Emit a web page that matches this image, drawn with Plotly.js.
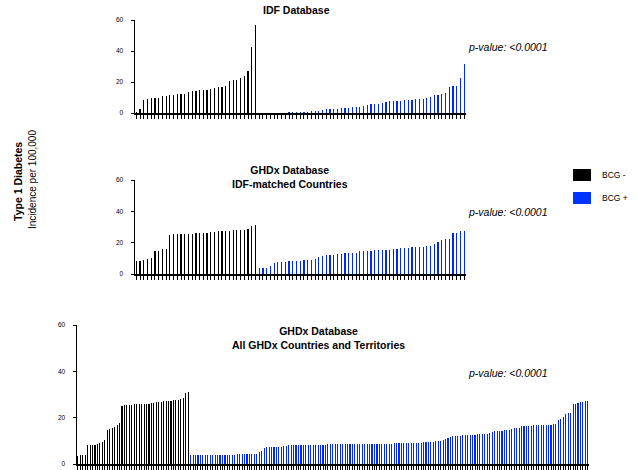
<!DOCTYPE html>
<html>
<head>
<meta charset="utf-8">
<script src="https://cdn.plot.ly/plotly-3.0.1.min.js"></script>
<style>html,body{margin:0;padding:0;background:#fff;}#chart{width:639px;height:470px;}</style>
</head>
<body>
<div id="chart"></div>
<script>
// ---- Data (incidence per 100,000) ----
const idfNeg = [0.5,2.6,8.6,9.2,9.4,9.4,10,11,11,11.6,11.8,12.2,12.2,12.4,13.5,14,14.4,14.6,14.6,15,15.6,16,16.7,16.7,17.6,20.8,21.4,21.4,22.5,23.6,27.2,42.4,57];
const idfPos = [0,0,0,0,0,0,0,0,0.4,0.5,0.6,0.7,0.8,0.9,1.0,1.1,1.3,2.0,2.3,2.5,2.6,2.8,3.0,3.2,3.5,3.7,
  3.9,4.1,4.5,4.9,5.6,5.8,5.8,6.7,6.9,7.5,7.7,7.7,7.7,8.2,8.2,8.4,8.8,9.0,9.2,9.7,10.5,11.6,11.6,12.3,12.7,16.6,17.2,17.4,22.6,31.8];

const matchNeg = [8.3,8.5,9.1,9.8,10.4,14.9,14.9,15.7,16.0,25.1,25.3,25.5,25.5,25.5,25.7,25.7,26.2,26.2,26.2,26.4,26.6,27.0,27.2,27.4,27.7,27.7,27.9,27.9,28.1,28.3,28.7,30.9,31.5];
const matchPos = [3.8,3.8,3.8,5.3,6.8,7.4,7.4,7.7,8.1,8.1,8.1,8.5,8.7,8.9,9.1,9.6,10.9,11.5,12.1,12.3,
  12.3,12.6,13.0,13.2,13.2,13.4,13.6,14.7,14.7,14.7,14.9,15.1,15.1,15.1,15.3,15.5,15.7,15.7,16.4,16.6,
  16.8,17.0,17.0,17.2,17.4,17.7,17.7,19.4,20.2,21.9,22.3,22.3,26.0,26.2,27.2,27.4];

const allNeg = [3.5,4.0,4.0,4.0,8.0,8.3,8.3,8.3,8.6,9.0,9.7,10.5,14.8,15.0,15.7,16.0,16.7,17.5,
  25.0,25.5,25.5,25.5,25.5,25.8,25.8,25.8,25.8,26.0,26.0,26.0,26.2,26.5,26.7,26.7,26.8,27.0,27.2,27.2,27.4,27.5,27.7,27.8,28.0,28.5,30.5,31.0];
const allPos = [3.8,3.8,3.9,3.9,3.9,3.9,3.9,4.0,4.0,4.0,4.0,4.0,4.1,4.1,4.1,4.1,4.1,4.1,4.1,4.2,4.2,4.2,4.2,4.2,4.2,4.2,4.2,4.3,
  5.3,5.4,6.8,
  7.3,7.4,7.4,7.4,7.5,7.5,7.5,7.6,7.6,
  8.0,8.0,8.1,8.1,8.1,8.1,8.2,8.2,8.2,8.2,8.3,8.3,
  8.4,8.4,8.4,8.4,8.5,8.5,8.5,8.5,8.5,8.5,8.6,8.6,8.6,8.6,8.6,8.6,8.7,8.7,8.7,8.7,8.7,
  8.7,8.7,8.7,8.8,8.8,8.8,8.8,8.8,
  8.8,8.8,8.9,8.9,8.9,8.9,9.0,9.0,
  9.1,9.1,9.2,9.2,9.2,9.2,9.3,9.3,
  9.6,9.7,9.7,9.8,10.0,10.1,10.2,10.8,11.4,11.6,12.0,12.1,12.1,12.2,
  12.5,12.6,12.6,12.7,12.7,12.7,12.8,12.8,12.8,12.8,12.9,13.4,
  14.0,14.2,14.3,14.3,14.4,14.7,14.7,14.8,15.3,15.4,15.4,15.5,
  16.4,16.5,16.6,16.6,16.6,16.7,16.7,16.9,16.9,17.0,17.0,17.0,17.0,17.1,17.2,
  18.9,19.6,20.3,21.7,22.0,22.1,25.8,26.0,26.4,26.6,26.8,27.1,27.4];

const yTicks = [0,20,40,60];
const legendLabels = ['BCG -','BCG +'];
const pText = 'p-value: <0.0001';

// ---- Styling ----
const BLACK = '#000000';
const BLUE = '#0026ff';
const FONT = 'Liberation Sans, Arial, Helvetica, sans-serif';
const W = 639, H = 470;
const px = v => v / W;
const py = v => 1 - v / H;

function barTraces(neg, pos, ax, width) {
  const xa = 'x' + (ax === 1 ? '' : ax), ya = 'y' + (ax === 1 ? '' : ax);
  return [
    {type:'bar', x: neg.map((_, i) => i), y: neg, xaxis: xa, yaxis: ya, width: width,
     marker:{color: BLACK, line:{width:0}}, showlegend:false, hoverinfo:'skip'},
    {type:'bar', x: pos.map((_, i) => neg.length + i), y: pos, xaxis: xa, yaxis: ya, width: width,
     marker:{color: BLUE, line:{width:0}}, showlegend:false, hoverinfo:'skip'}
  ];
}

const data = [].concat(
  barTraces(idfNeg, idfPos, 1, 0.32),
  barTraces(matchNeg, matchPos, 2, 0.32),
  barTraces(allNeg, allPos, 3, 0.45)
);

function xAxis(domain, n, anchor) {
  return {domain: domain, anchor: anchor, range: [-0.35, n - 0.5], showgrid:false, zeroline:false,
    showline:true, linecolor:'#000', linewidth:1.5, ticks:'outside', ticklen:4, tickwidth:1, tickcolor:'#000',
    tickmode:'linear', tick0:0, dtick:1, showticklabels:false, fixedrange:true};
}
function yAxis(domain, anchor) {
  return {domain: domain, anchor: anchor, range:[0,60], showgrid:false, zeroline:false,
    showline:true, linecolor:'#000', linewidth:1.5, ticks:'outside', ticklen:3, tickwidth:1, tickcolor:'#000',
    tickvals: yTicks, ticktext: yTicks.map(String), ticklabelstandoff: 6,
    tickfont:{family: FONT, size: 6.5, color:'#000'}, fixedrange:true};
}

const n1 = idfNeg.length + idfPos.length;
const n2 = matchNeg.length + matchPos.length;
const n3 = allNeg.length + allPos.length;

const layout = {
  width: W, height: H, margin:{l:0,r:0,t:0,b:0}, paper_bgcolor:'#fff', plot_bgcolor:'rgba(0,0,0,0)',
  font:{family: FONT, color:'#000'}, bargap:0, showlegend:false,
  xaxis: xAxis([px(135), px(466)], n1, 'y'),
  yaxis: yAxis([py(113), py(20)], 'x'),
  xaxis2: xAxis([px(135), px(466)], n2, 'y2'),
  yaxis2: yAxis([py(274), py(180)], 'x2'),
  xaxis3: xAxis([px(77), px(589)], n3, 'y3'),
  yaxis3: yAxis([py(464), py(325)], 'x3'),
  annotations: [
    {text:'<b>IDF Database</b>', xref:'paper', yref:'paper', x:px(296), y:py(10), showarrow:false,
     font:{size:10.5}, xanchor:'center', yanchor:'middle'},
    {text:'<b>GHDx Database</b><br><b>IDF-matched Countries</b>', xref:'paper', yref:'paper', x:px(290), y:py(177.5), showarrow:false,
     font:{size:10.5}, xanchor:'center', yanchor:'middle'},
    {text:'<b>GHDx Database</b><br><b>All GHDx Countries and Territories</b>', xref:'paper', yref:'paper', x:px(318), y:py(338), showarrow:false,
     font:{size:10.5}, xanchor:'center', yanchor:'middle'},
    {text:'<i>' + pText.replace('<','&lt;') + '</i>', xref:'paper', yref:'paper', x:px(466), y:py(47), showarrow:false,
     font:{size:10.5}, xanchor:'left', yanchor:'middle'},
    {text:'<i>' + pText.replace('<','&lt;') + '</i>', xref:'paper', yref:'paper', x:px(466), y:py(212), showarrow:false,
     font:{size:10.5}, xanchor:'left', yanchor:'middle'},
    {text:'<i>' + pText.replace('<','&lt;') + '</i>', xref:'paper', yref:'paper', x:px(466), y:py(373), showarrow:false,
     font:{size:10.5}, xanchor:'left', yanchor:'middle'},
    {text:'<b>Type 1 Diabetes</b>', xref:'paper', yref:'paper', x:px(18), y:py(182), showarrow:false, textangle:-90,
     font:{size:10.5}, xanchor:'center', yanchor:'middle'},
    {text:'Incidence per 100,000', xref:'paper', yref:'paper', x:px(32), y:py(180), showarrow:false, textangle:-90,
     font:{size:10}, xanchor:'center', yanchor:'middle'},
    {text: legendLabels[0], xref:'paper', yref:'paper', x:px(600), y:py(175), showarrow:false,
     font:{size:8.5}, xanchor:'left', yanchor:'middle'},
    {text: legendLabels[1], xref:'paper', yref:'paper', x:px(600), y:py(198), showarrow:false,
     font:{size:8.5}, xanchor:'left', yanchor:'middle'}
  ],
  shapes: [
    {type:'rect', xref:'paper', yref:'paper', x0:px(573), x1:px(591), y0:py(181), y1:py(169), fillcolor:BLACK, line:{width:0}},
    {type:'rect', xref:'paper', yref:'paper', x0:px(573), x1:px(591), y0:py(204), y1:py(192), fillcolor:'#0033ff', line:{width:0}}
  ]
};

Plotly.newPlot('chart', data, layout, {staticPlot:true, displayModeBar:false});
</script>
</body>
</html>
